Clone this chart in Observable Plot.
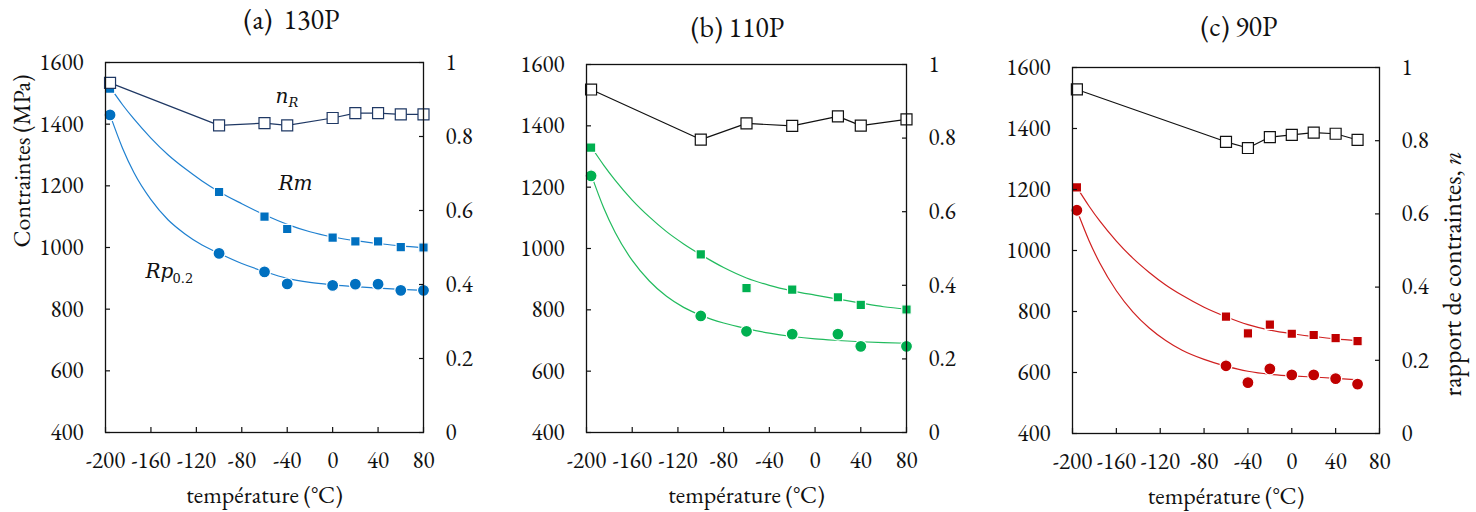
<!DOCTYPE html>
<html>
<head>
<meta charset="utf-8">
<script src="https://cdn.jsdelivr.net/npm/d3@7"></script>
<script src="https://cdn.jsdelivr.net/npm/@observablehq/plot@0.6"></script>
<style>
  html, body { margin: 0; padding: 0; background: #fff; }
  #wrap { position: relative; width: 1476px; height: 512px; overflow: hidden; }
  .panel { position: absolute; top: 0; }
  #wrap svg text { font-family: "EB Garamond", "Liberation Serif", serif !important; }
  #wrap svg g.math text { font-family: "DejaVu Serif", serif !important; }
</style>
</head>
<body>
<div id="wrap">
  <div class="panel" id="pa" style="left:0px"></div>
  <div class="panel" id="pb" style="left:490px"></div>
  <div class="panel" id="pc" style="left:980px"></div>
</div>
<script>
// ---------- shared axes ----------
const X_DOMAIN = [-200, 80];
const Y_DOMAIN = [400, 1600];
const X_TICKS = [-200, -160, -120, -80, -40, 0, 40, 80];
const Y_TICKS = [400, 600, 800, 1000, 1200, 1400, 1600];
const N_TICKS = [0, 0.2, 0.4, 0.6, 0.8, 1];
const N_LABELS = ["0", "0.2", "0.4", "0.6", "0.8", "1"];
const X_LABEL = "température (°C)";
const Y_LABEL = "Contraintes (MPa)";
const N_LABEL = "rapport de contraintes, ";
const N_LABEL_ITALIC = "n";

// ---------- (a) 130P ----------
const T_A  = [-196, -100, -60, -40, 0, 20, 40, 60, 80];
const RM_A = [1515, 1180, 1100, 1060, 1032, 1020, 1020, 1001, 1000];
const RP_A = [1430, 981, 921, 882, 877, 881, 881, 861, 861];
const NR_A = [0.945, 0.830, 0.836, 0.830, 0.850, 0.863, 0.863, 0.860, 0.860];
const FIT_T_A  = [-196, -185, -175, -160, -145, -130, -115, -100, -80, -60, -40, -20, 0, 20, 40, 60, 80];
const FIT_RM_A = [1520, 1463, 1417, 1355, 1301, 1256, 1216, 1181, 1142, 1106, 1075, 1051, 1034, 1022, 1013, 1005, 999];
const FIT_RP_A = [1430, 1322, 1243, 1155, 1090, 1044, 1008, 981, 948, 922, 900, 887, 879, 873, 868, 864, 861];
const ANNOT_A_TEXT = ["n", "R", "Rm", "Rp", "0.2"];
const ANNOT_A_T    = [-50.3, -38.9, -47.7, -164.8, -141];
const ANNOT_A_V    = [1490, 1468, 1208, 922, 900];
const ANNOT_A_SIZE = [20, 13, 20, 20, 13];
const ANNOT_A_ITAL = [true, true, true, true, false];

// ---------- (b) 110P ----------
const T_B  = [-196, -100, -60, -20, 20, 40, 80];
const RM_B = [1329, 981, 871, 866, 841, 816, 801];
const RP_B = [1237, 780, 730, 721, 721, 681, 681];
const NR_B = [0.932, 0.796, 0.840, 0.833, 0.859, 0.834, 0.851];
const FIT_T_B  = [-196, -185, -175, -160, -145, -130, -115, -100, -80, -60, -40, -20, 0, 20, 40, 60, 80];
const FIT_RM_B = [1332, 1272, 1223, 1158, 1103, 1055, 1015, 980, 938, 904, 880, 862, 848, 835, 822, 810, 802];
const FIT_RP_B = [1242, 1133, 1053, 961, 894, 844, 808, 782, 757, 739, 724, 713, 705, 700, 696, 693, 691];

// ---------- (c) 90P ----------
const T_C  = [-196, -60, -40, -20, 0, 20, 40, 60];
const RM_C = [1207, 783, 728, 757, 727, 723, 713, 703];
const RP_C = [1132, 622, 567, 612, 592, 592, 580, 562];
const NR_C = [0.940, 0.797, 0.780, 0.810, 0.816, 0.822, 0.819, 0.802];
const FIT_T_C  = [-196, -185, -175, -160, -145, -130, -115, -100, -80, -60, -40, -20, 0, 20, 40, 60];
const FIT_RM_C = [1207, 1146, 1096, 1031, 975, 928, 887, 853, 814, 783, 757, 739, 727, 718, 710, 704];
const FIT_RP_C = [1132, 1033, 958, 868, 799, 746, 705, 673, 643, 621, 604, 594, 589, 585, 581, 576];

// secondary (ratio) axis mapped onto the stress scale
const nToY = n => Y_DOMAIN[0] + n * (Y_DOMAIN[1] - Y_DOMAIN[0]);

const SERIF = "EB Garamond";
const MATH = "DejaVu Serif";
const INK = "#111";
const TICK_FS = 23, LABEL_FS = 24, RLABEL_FS = 26, TITLE_FS = 28;

function panel(cfg) {
  const pts = cfg.T.map((t, i) => ({t, rm: cfg.RM[i], rp: cfg.RP[i], n: cfg.NR[i]}));
  const fit = cfg.FT.map((t, i) => ({t, rm: cfg.FRM[i], rp: cfg.FRP[i]}));
  const numFmt = d => String(d);
  const marks = [
    Plot.line(fit, {x: "t", y: "rm", stroke: cfg.curve, strokeWidth: 1.2, curve: "monotone-x"}),
    Plot.line(fit, {x: "t", y: "rp", stroke: cfg.curve, strokeWidth: 1.2, curve: "monotone-x"}),
    Plot.dot(pts, {x: "t", y: "rm", symbol: "square", r: 5.3, fill: cfg.color, stroke: "white", strokeWidth: 1.2}),
    Plot.dot(pts, {x: "t", y: "rp", r: 6.0, fill: cfg.color, stroke: "white", strokeWidth: 1.2}),
    Plot.line(pts, {x: "t", y: d => nToY(d.n), stroke: cfg.nr, strokeWidth: 1.2}),
    Plot.dot(pts, {x: "t", y: d => nToY(d.n), symbol: "square", r: 6.2, fill: "white", stroke: cfg.nr, strokeWidth: 1.2}),
    Plot.frame({stroke: INK, strokeWidth: 1.3}),
    // left axis
    Plot.axisY({anchor: "left", ticks: Y_TICKS, tickSize: 0, tickPadding: 22, label: null, tickFormat: numFmt, fontSize: TICK_FS}),
    Plot.axisY({anchor: "left", ticks: Y_TICKS, tickSize: -5, tickFormat: () => "", label: null, stroke: INK, strokeWidth: 1.2}),
    // right axis (ratio)
    Plot.axisY({anchor: "right", ticks: N_TICKS.map(nToY), tickSize: 0, tickPadding: 22, label: null, fontSize: TICK_FS,
      tickFormat: d => N_LABELS[N_TICKS.findIndex(n => Math.abs(nToY(n) - d) < 1e-6)]}),
    Plot.axisY({anchor: "right", ticks: N_TICKS.map(nToY), tickSize: -5, tickFormat: () => "", label: null, stroke: INK, strokeWidth: 1.2}),
    // bottom axis
    Plot.axisX({ticks: X_TICKS, tickSize: 0, tickPadding: 19, label: null, tickFormat: numFmt, fontSize: TICK_FS}),
    Plot.axisX({ticks: X_TICKS, tickSize: -5, tickFormat: () => "", label: null, stroke: INK, strokeWidth: 1.2}),
    // titles
    Plot.text([cfg.title], {frameAnchor: "top", dx: cfg.titleDx, dy: cfg.titleDy, fontSize: TITLE_FS, lineAnchor: "middle", fill: INK}),
    Plot.text([X_LABEL], {frameAnchor: "bottom", dy: 63, fontSize: LABEL_FS, lineAnchor: "middle", fill: INK})
  ];
  if (cfg.leftLabel) {
    marks.push(Plot.text([Y_LABEL], {frameAnchor: "left", dx: -83, rotate: -90, fontSize: LABEL_FS, lineAnchor: "middle", fill: INK}));
  }
  if (cfg.annot) {
    const a = cfg.annot.text.map((s, i) => ({s, t: cfg.annot.t[i], v: cfg.annot.v[i], size: cfg.annot.size[i], ital: cfg.annot.ital[i]}));
    for (const d of a) {
      marks.push(Plot.text([d], {x: "t", y: "v", text: "s", textAnchor: "start", lineAnchor: "middle", className: "math",
        fontFamily: MATH, fontSize: d.size, fontStyle: d.ital ? "italic" : "normal", fill: INK}));
    }
  }
  const svg = Plot.plot({
    width: cfg.width, height: 512,
    marginLeft: cfg.ml, marginRight: cfg.mr, marginTop: cfg.mt, marginBottom: cfg.mb,
    x: {domain: X_DOMAIN, label: null},
    y: {domain: Y_DOMAIN, label: null},
    style: {fontSize: "22px", color: INK, background: "white", overflow: "visible"},
    marks
  });
  svg.setAttribute("font-family", SERIF);
  if (cfg.rightLabel) {
    // secondary-axis title, with italic n
    const cx = cfg.width - cfg.mr + 74;
    const cy = (cfg.mt + 512 - cfg.mb) / 2 + 24;
    const t = d3.select(svg).append("text")
      .attr("transform", `translate(${cx},${cy}) rotate(-90)`)
      .attr("text-anchor", "middle")
      .attr("dy", "0.32em")
      .attr("font-size", RLABEL_FS)
      .attr("fill", INK);
    t.append("tspan").text(N_LABEL);
    t.append("tspan").attr("font-style", "italic").text(N_LABEL_ITALIC);
  }
  return svg;
}

document.getElementById("pa").appendChild(panel({
  T: T_A, RM: RM_A, RP: RP_A, NR: NR_A, FT: FIT_T_A, FRM: FIT_RM_A, FRP: FIT_RP_A,
  color: "#0070C0", curve: "#1F80D0", nr: "#1F3864",
  width: 490, ml: 105, mr: 67, mt: 62, mb: 80,
  title: "(a)\u00a0\u00a0130P", titleDx: 27, titleDy: -42, leftLabel: true,
  annot: {text: ANNOT_A_TEXT, t: ANNOT_A_T, v: ANNOT_A_V, size: ANNOT_A_SIZE, ital: ANNOT_A_ITAL}
}));
document.getElementById("pb").appendChild(panel({
  T: T_B, RM: RM_B, RP: RP_B, NR: NR_B, FT: FIT_T_B, FRM: FIT_RM_B, FRP: FIT_RP_B,
  color: "#00B050", curve: "#22BB5E", nr: INK,
  width: 490, ml: 96, mr: 74, mt: 64, mb: 80,
  title: "(b) 110P", titleDx: -9, titleDy: -36
}));
document.getElementById("pc").appendChild(panel({
  T: T_C, RM: RM_C, RP: RP_C, NR: NR_C, FT: FIT_T_C, FRM: FIT_RM_C, FRP: FIT_RP_C,
  color: "#C00000", curve: "#D02020", nr: INK,
  width: 496, ml: 92, mr: 97, mt: 67, mb: 79,
  title: "(c) 90P", titleDx: 13, titleDy: -40, rightLabel: true
}));
</script>
</body>
</html>
